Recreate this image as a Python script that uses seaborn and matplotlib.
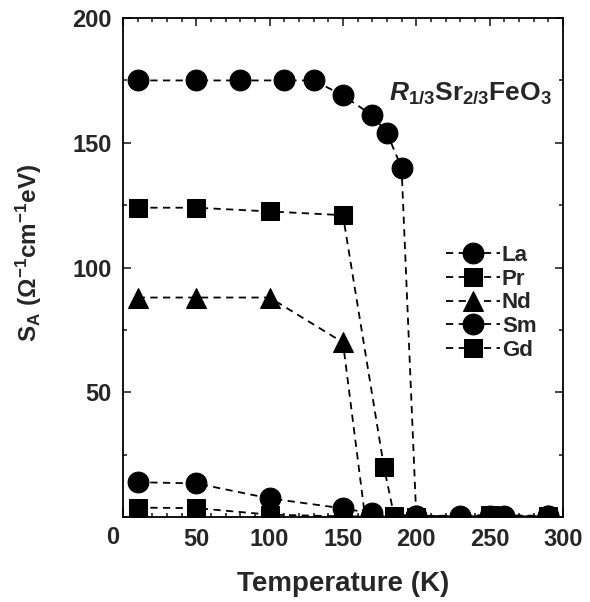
import numpy as np
import pandas as pd
import matplotlib
matplotlib.use("Agg")
import matplotlib.pyplot as plt
from matplotlib.ticker import MultipleLocator
import seaborn as sns

# values
t_la = [10, 50, 80, 110, 130, 150, 170, 180, 190, 200, 230, 260, 290]
s_la = [175, 175, 175, 175, 175, 169, 161, 154, 140, 0.5, 0.3, 0.3, 0.3]

t_pr = [10, 50, 100, 150, 178, 185, 250, 290]
s_pr = [124, 124, 122.5, 121, 20, 0.3, 0.8, 0.5]

t_nd = [10, 50, 100, 150, 165, 200, 250, 290]
s_nd = [88, 88, 88, 70, 0.5, 0.2, 0.2, 0.2]

t_sm = [10, 50, 100, 150, 170, 200, 250, 290]
s_sm = [14, 13.5, 7.5, 3.5, 1.5, 0.5, 0.3, 0.3]

t_gd = [10, 50, 100, 150, 200, 250, 290]
s_gd = [3.8, 3.6, 1.0, 0.3, 0.2, 0.2, 0.2]

labels  = ["La", "Pr", "Nd", "Sm", "Gd"]
markers = ["o", "s", "^", "o", "s"]
msizes  = [15, 13, 15, 15, 13]
xticks  = [0, 50, 100, 150, 200, 250, 300]
yticks  = [50, 100, 150, 200]

sns.set_style("ticks")
plt.rcParams['font.family'] = ['Liberation Sans', 'DejaVu Sans']
plt.rcParams['font.weight'] = 'bold'
plt.rcParams['mathtext.fontset'] = 'custom'
plt.rcParams['mathtext.rm'] = 'Liberation Sans:bold'
plt.rcParams['mathtext.it'] = 'Liberation Sans:italic:bold'
plt.rcParams['mathtext.bf'] = 'Liberation Sans:bold'

fig = plt.figure(figsize=(5.9, 6.02), dpi=100)
ax = fig.add_axes([0.2085, 0.141, 0.7455, 0.829])

series = [(t_la, s_la), (t_pr, s_pr), (t_nd, s_nd), (t_sm, s_sm), (t_gd, s_gd)]
for (t, s), lab, mk, ms in zip(series, labels, markers, msizes):
    df = pd.DataFrame({"T": t, "S": s})
    sns.lineplot(data=df, x="T", y="S", ax=ax, sort=False, color="black",
                 marker=mk, markersize=ms, markeredgecolor="black",
                 linestyle=(0, (4, 3)), linewidth=1.3, label=lab)

ax.set_xlim(0, 300)
ax.set_ylim(0, 200)
ax.set_xticks(xticks)
ax.set_xticklabels([""] + [str(v) for v in xticks[1:]])
ax.set_yticks(yticks)
ax.xaxis.set_minor_locator(MultipleLocator(10))
ax.yaxis.set_minor_locator(MultipleLocator(25))
ax.tick_params(which="both", direction="in", top=True, right=True, width=1.2)
ax.tick_params(which="major", length=6, labelsize=17, pad=8)
ax.tick_params(which="minor", length=3)
for sp in ax.spines.values():
    sp.set_linewidth(1.3)
    sp.set_color("black")

ax.set_xlabel("Temperature (K)", fontsize=20, fontweight="bold", labelpad=14)
ax.set_ylabel(r"$\mathrm{S_A\ (\Omega^{-1}cm^{-1}eV)}$", fontsize=17.5)
ax.yaxis.set_label_coords(-0.18, 0.53)
ax.text(0.975, 0.85, r"$\mathit{R}_{1/3}\mathrm{Sr}_{2/3}\mathrm{FeO}_3$",
        transform=ax.transAxes, ha="right", va="center", fontsize=19)
# the x "0" label sits left of the axis corner in the original
fig.text(113 / 590, 1 - 538 / 602, "0", ha="center", va="center",
         fontsize=17, fontweight="bold")

leg = ax.legend(loc="upper left", bbox_to_anchor=(0.735, 0.545), frameon=False,
                fontsize=16, handlelength=2.4, labelspacing=0.12,
                handletextpad=0.1, borderaxespad=0, borderpad=0)
for txt in leg.get_texts():
    txt.set_fontweight("bold")

fig.savefig("out.png", dpi=100)
